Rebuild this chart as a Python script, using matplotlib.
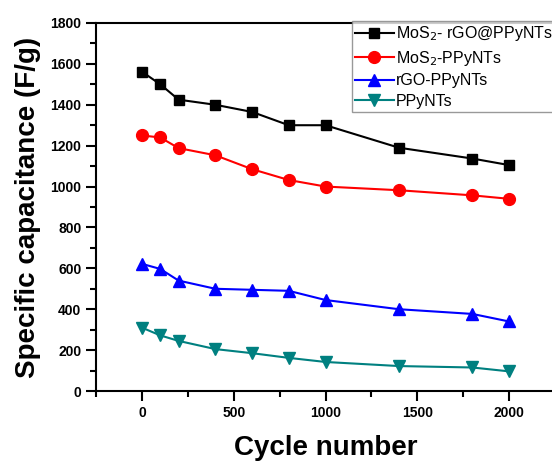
import matplotlib.pyplot as plt

plt.rcParams['font.family'] = ['Liberation Sans', 'DejaVu Sans']

# cycle numbers
cycles = [0, 100, 200, 400, 600, 800, 1000, 1400, 1800, 2000]
# specific capacitance (F/g)
mos2_rgo_ppy = [1562, 1500, 1425, 1400, 1365, 1300, 1300, 1190, 1137, 1105]
mos2_ppy = [1250, 1240, 1188, 1153, 1085, 1032, 1000, 982, 957, 940]
rgo_ppy = [622, 597, 540, 500, 495, 490, 445, 400, 377, 340]
ppy = [310, 272, 245, 205, 185, 162, 142, 122, 115, 96]

labels = ['MoS$_2$- rGO@PPyNTs', 'MoS$_2$-PPyNTs', 'rGO-PPyNTs', 'PPyNTs']

fig = plt.figure(figsize=(5.52, 4.61), dpi=100)
ax = fig.add_axes([96/552, 70/461, 459/552, 368/461])

ax.plot(cycles, mos2_rgo_ppy, color='black', marker='s', markersize=7.5, linewidth=1.5, label=labels[0])
ax.plot(cycles, mos2_ppy, color='red', marker='o', markersize=8.5, linewidth=1.5, label=labels[1])
ax.plot(cycles, rgo_ppy, color='blue', marker='^', markersize=8.5, linewidth=1.5, label=labels[2])
ax.plot(cycles, ppy, color='#008080', marker='v', markersize=8.5, linewidth=1.5, label=labels[3])

ax.set_xlim(-250, 2250)
ax.set_ylim(0, 1800)
ax.set_xticks([0, 500, 1000, 1500, 2000])
ax.set_xticks([-250, 250, 750, 1250, 1750, 2250], minor=True)
ax.set_yticks(range(0, 1801, 200))
ax.set_yticks(range(100, 1800, 200), minor=True)
ax.tick_params(which='major', direction='out', length=7, width=1.5, labelsize=10)
ax.tick_params(which='minor', direction='out', length=4, width=1.5)
for lab in ax.get_xticklabels() + ax.get_yticklabels():
    lab.set_fontweight('bold')
for s in ax.spines.values():
    s.set_linewidth(1.5)

ax.set_xlabel('Cycle number', fontsize=20, fontweight='bold', labelpad=11)
ax.set_ylabel('Specific capacitance (F/g)', fontsize=20, fontweight='bold', labelpad=7)

leg = ax.legend(loc='upper left', bbox_to_anchor=(352/552, 1 - 21/461), bbox_transform=fig.transFigure,
                fontsize=11.5, frameon=True, fancybox=False, borderaxespad=0, handlelength=2.4,
                handletextpad=0.15, labelspacing=0.35, borderpad=0.2)
leg.get_frame().set_edgecolor('gray')
leg.get_frame().set_linewidth(1)

fig.savefig('out.png', dpi=100)
